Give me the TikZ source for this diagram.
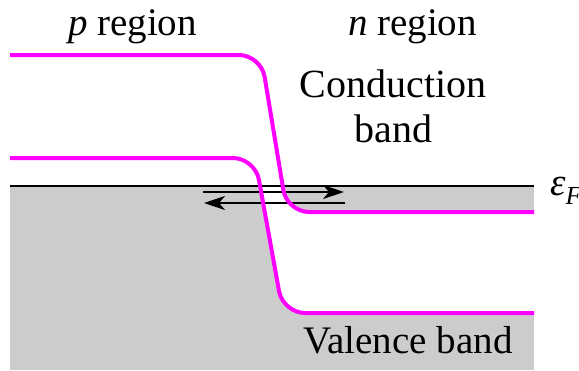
\documentclass[tikz,border=0pt]{standalone}
\usepackage{fontspec}
\setmainfont{Liberation Serif}
\usetikzlibrary{arrows.meta}
\definecolor{bandcol}{HTML}{FF00FF}
\definecolor{greyfill}{HTML}{CCCCCC}
\tikzset{
  bandline/.style={draw=bandcol, line width=4pt, rounded corners=22pt},
  gapfill/.style={fill=white, rounded corners=22pt},
  fermi/.style={draw=black, line width=2.4pt},
  flow/.style={draw=black, line width=2.2pt, -{Stealth[length=21pt,width=14pt,inset=6pt]}},
  lbl/.style={anchor=base, inner sep=0pt, font=\fontsize{39}{45}\selectfont},
}
\begin{document}
\begin{tikzpicture}[x=1pt,y=-1pt]
\useasboundingbox (0,0) rectangle (579,370);
% filled states below the Fermi level
\fill[greyfill] (10,186) rectangle (534,370);
% band gap (white)
\begin{scope}
\clip (10,186) rectangle (534,370);
\fill[gapfill] (-30,55) -- (261,55) -- (287,212) -- (600,212) -- (600,313) -- (283,313) -- (255,158) -- (-30,158) -- cycle;
\end{scope}
% Fermi level
\coordinate (fL) at (10,186);
\coordinate (fR) at (534,186);
\draw[fermi] (fL) -- (fR);
% arrows
\coordinate (a1) at (203,192);
\coordinate (b1) at (344,192);
\coordinate (a2) at (345,203);
\coordinate (b2) at (204,203);
\draw[flow] (a1) -- (b1);
\draw[flow] (a2) -- (b2);
% bands
\draw[bandline] (10,55) -- (261,55) -- (287,212) -- (534,212);
\draw[bandline] (10,158) -- (255,158) -- (283,313) -- (534,313);
% labels
\node[lbl] (pr) at (132.5,35) {\textit{p} region};
\node[lbl] (nr) at (412.5,35) {\textit{n} region};
\node[lbl, font=\fontsize{40}{45}\selectfont] (cb1) at (393,97) {Conduction};
\node[lbl, font=\fontsize{40}{45}\selectfont] (cb2) at (393.5,142) {band};
\node[lbl] (vb) at (408,353) {Valence band};
\node[lbl, anchor=base west] (ef) at (550,195) {\textit{ε}\raisebox{-9pt}{\fontsize{26}{26}\selectfont\textit{F}}};
\end{tikzpicture}
\end{document}
